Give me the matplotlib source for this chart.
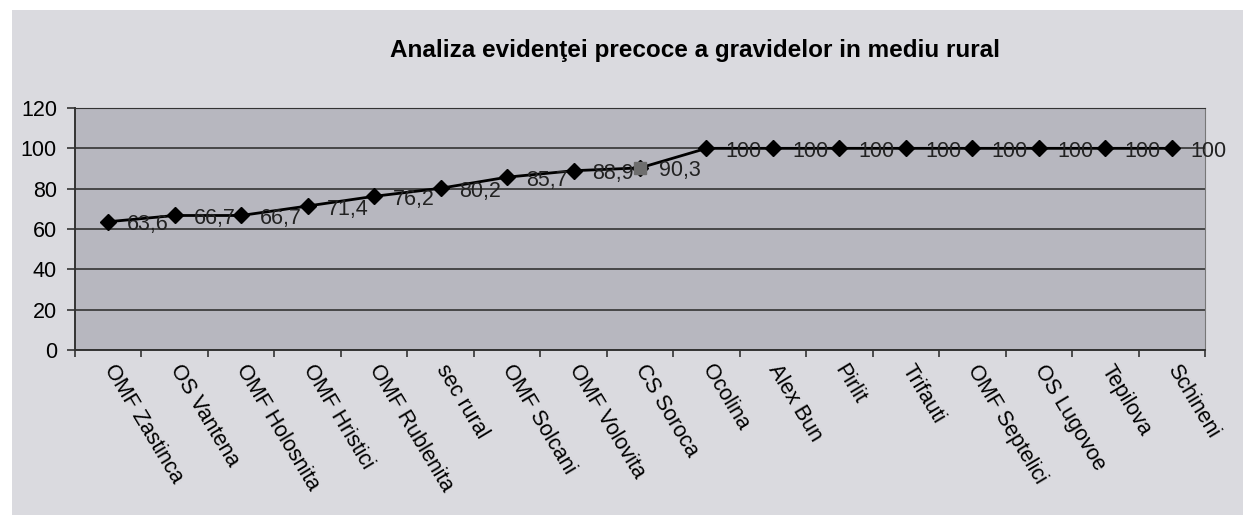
import numpy as np
import matplotlib
matplotlib.use('Agg')
import matplotlib.pyplot as plt
from matplotlib.patches import Rectangle

plt.rcParams['font.family'] = ['Liberation Sans', 'DejaVu Sans']

categories = ['OMF Zastinca', 'OS Vantena', 'OMF Holosnita', 'OMF Hristici',
              'OMF Rublenita', 'sec rural', 'OMF Solcani', 'OMF Volovita',
              'CS Soroca', 'Ocolina', 'Alex Bun', 'Pirlit', 'Trifauti',
              'OMF Septelici', 'OS Lugovoe', 'Tepilova', 'Schineni']
values = [63.6, 66.7, 66.7, 71.4, 76.2, 80.2, 85.7, 88.9, 90.3,
          100, 100, 100, 100, 100, 100, 100, 100]
value_labels = ['63,6', '66,7', '66,7', '71,4', '76,2', '80,2', '85,7', '88,9',
                '90,3', '100', '100', '100', '100', '100', '100', '100', '100']
highlight = 'CS Soroca'
y_ticks = [0, 20, 40, 60, 80, 100, 120]
title = 'Analiza evidenţei precoce a gravidelor in mediu rural'

W, H = 1243, 526
fig = plt.figure(figsize=(W / 100, H / 100), dpi=100)
fig.patch.set_facecolor('white')

# chart background
fig.patches.append(Rectangle((12 / W, 1 - 515 / H), 1, (515 - 10) / H,
                             transform=fig.transFigure, facecolor='#dadadf',
                             edgecolor='none', zorder=-10))

ax = fig.add_axes([75 / W, 1 - 350 / H, (1205 - 75) / W, (350 - 108) / H])
ax.set_facecolor('#b7b7bf')

x = np.arange(len(categories))
ax.plot(x, values, color='black', lw=2, marker='D', ms=8.5, mfc='black',
        mec='black', zorder=3)
i = categories.index(highlight)
ax.plot(x[i], values[i], marker='s', ms=8.5, color='#6e6e6e', zorder=4)

for xi, v, lab in zip(x, values, value_labels):
    ax.annotate(lab, (xi, v), xytext=(19, -3), textcoords='offset pixels',
                ha='left', va='center', fontsize=15.5, color='#222222',
                annotation_clip=False, zorder=5)

ax.set_xlim(-0.5, len(categories) - 0.5)
ax.set_ylim(0, 120)
ax.set_yticks(y_ticks)
ax.set_yticklabels([str(t) for t in y_ticks], fontsize=15.5)
ax.yaxis.grid(True, color='#333333', lw=1.2)
ax.set_axisbelow(True)

# labels at category centres, tick marks between categories
ax.set_xticks(x)
ax.set_xticks(np.arange(len(categories) + 1) - 0.5, minor=True)
ax.tick_params(axis='x', which='major', length=0, pad=12)
ax.tick_params(axis='x', which='minor', length=5, width=1.2, color='#333333')
ax.tick_params(axis='y', length=6, width=1.2, color='#333333', pad=7)
labels = ax.set_xticklabels(categories, fontsize=15.5)
plt.setp(labels, rotation=-59, ha='left', va='center', rotation_mode='anchor')

for side in ['left', 'bottom']:
    ax.spines[side].set_color('#333333')
    ax.spines[side].set_linewidth(1.4)
ax.spines['right'].set_color('#777777')
ax.spines['top'].set_color('#333333')

fig.text(695 / W, 1 - 50 / H, title, ha='center', va='center',
         fontsize=17.5, fontweight='bold')

fig.savefig('out.png', dpi=100)
